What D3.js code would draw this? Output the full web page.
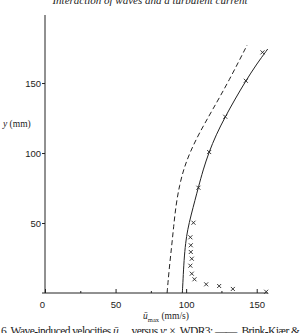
<!DOCTYPE html>
<html>
<head>
<meta charset="utf-8">
<script src="https://cdn.jsdelivr.net/npm/d3@7"></script>
<style>
  body { margin: 0; background: #fff; }
  svg { display: block; font-family: "Liberation Serif", "DejaVu Serif", serif; }
</style>
</head>
<body>
<svg id="chart" width="301" height="333"></svg>
<script>
// measured points, WDR3 (u in mm/s, y in mm)
var crossU = [156.7, 133.1, 123.4, 114.2, 105.9, 104.0, 103.0, 104.0, 103.3, 103.3, 103.0, 105.2, 108.7, 116.3, 127.7, 142.3, 154.1];
var crossY = [0.9, 2.9, 5.0, 6.2, 9.8, 13.8, 19.5, 24.5, 29.3, 34.1, 39.8, 50.2, 75.2, 100.7, 125.9, 151.6, 171.9];

// solid curve (Brink-Kjaer & ...)
var solidU = [97.3, 97.8, 98.5, 99.6, 101.0, 103.5, 106.3, 108.6, 112.0, 116.2, 121.2, 127.6, 134.7, 142.2, 149.5, 157.8];
var solidY = [0, 9.3, 23.6, 35.7, 45, 55.7, 66.4, 75.2, 87.9, 100.7, 112.9, 125.7, 138.6, 151.4, 162.9, 174.3];

// dashed curve
var dashU = [86.5, 87.9, 89.7, 91.1, 92.8, 95.3, 98.5, 102.8, 109.3, 118.6, 130.6, 143.2];
var dashY = [0, 16.4, 32.9, 47.1, 62.9, 77.1, 89.3, 100.7, 114.3, 130.7, 152.1, 177.1];

var xTicks = [0, 50, 100, 150];
var xMinor = [25, 75, 125];
var yTicks = [50, 100, 150];

var svg = d3.select("#chart");
var ink = "#222";

var x = d3.scaleLinear().domain([0, 158]).range([45, 268]);
var y = d3.scaleLinear().domain([0, 198.6]).range([293, 15]);

// title (cut at top edge)
svg.append("text")
    .attr("x", 150).attr("y", 4)
    .attr("text-anchor", "middle")
    .attr("font-style", "italic")
    .attr("font-size", 11)
    .attr("fill", ink)
    .text("Interaction of waves and a turbulent current");

// x axis
var xAxis = d3.axisBottom(x)
    .tickValues(xTicks)
    .tickSizeInner(-4)
    .tickSizeOuter(0)
    .tickPadding(8)
    .tickFormat(d3.format("d"));

var gx = svg.append("g")
    .attr("transform", "translate(0," + y(0) + ")")
    .call(xAxis);
gx.select(".domain").attr("d", "M42,0H" + x(158));

svg.append("g")
    .attr("transform", "translate(0," + y(0) + ")")
    .call(d3.axisBottom(x).tickValues(xMinor).tickSizeInner(-2).tickSizeOuter(0).tickFormat(""))
    .select(".domain").remove();

gx.selectAll(".tick text").attr("font-size", 9.5).attr("font-family", null);
gx.selectAll(".tick").filter(function(d) { return d === 0; }).select("text").attr("dx", -3);

// y axis
var gy = svg.append("g")
    .attr("transform", "translate(" + x(0) + ",0)")
    .call(d3.axisLeft(y).tickValues(yTicks).tickSizeInner(3).tickSizeOuter(0).tickPadding(1));
gy.select(".domain").attr("d", "M0," + y(198.6) + "V" + y(0));
gy.selectAll(".tick text").attr("font-size", 9.5).attr("font-family", null);

svg.selectAll(".domain, .tick line").attr("stroke", ink);
svg.selectAll(".tick text").attr("fill", ink);

// curves
var line = d3.line().curve(d3.curveBasis);

svg.append("path")
    .attr("d", line(solidU.map(function(u, i) { return [x(u), y(solidY[i])]; })))
    .attr("fill", "none")
    .attr("stroke", ink)
    .attr("stroke-width", 1);

svg.append("path")
    .attr("d", line(dashU.map(function(u, i) { return [x(u), y(dashY[i])]; })))
    .attr("fill", "none")
    .attr("stroke", ink)
    .attr("stroke-width", 1)
    .attr("stroke-dasharray", "5,3");

// crosses
var s = 2;
svg.append("g").selectAll("path")
    .data(crossU)
  .enter().append("path")
    .attr("d", function(d, i) {
      var cx = x(d), cy = y(crossY[i]);
      return "M" + (cx - s) + "," + (cy - s) + "L" + (cx + s) + "," + (cy + s) +
             "M" + (cx - s) + "," + (cy + s) + "L" + (cx + s) + "," + (cy - s);
    })
    .attr("stroke", ink)
    .attr("stroke-width", 0.9)
    .attr("fill", "none");

// axis labels
var yl = svg.append("text")
    .attr("x", 3).attr("y", 127)
    .attr("font-size", 9.5)
    .attr("fill", ink);
yl.append("tspan").attr("font-style", "italic").text("y");
yl.append("tspan").text(" (mm)");

var xl = svg.append("text")
    .attr("x", 166).attr("y", 319)
    .attr("text-anchor", "middle")
    .attr("font-size", 9.5)
    .attr("fill", ink);
xl.append("tspan").attr("font-style", "italic").text("\u016B");
xl.append("tspan").attr("font-size", 6.5).attr("dy", 2.5).text("max");
xl.append("tspan").attr("dy", -2.5).text(" (mm/s)");

// caption (cut at bottom edge)
var cap = svg.append("text")
    .attr("x", 1).attr("y", 334.5)
    .attr("font-size", 11.5)
    .attr("fill", ink)
    .attr("textLength", 299)
    .attr("lengthAdjust", "spacing");
cap.append("tspan").text("6. Wave-induced velocities ");
cap.append("tspan").attr("font-style", "italic").text("\u016B");
cap.append("tspan").attr("font-size", 7.5).attr("dy", 2.5).text("max");
cap.append("tspan").attr("dy", -2.5).text(" versus ");
cap.append("tspan").attr("font-style", "italic").text("y");
cap.append("tspan").text("; \u00D7, WDR3; \u2014\u2014, Brink-Kj\u00E6r &");
</script>
</body>
</html>
